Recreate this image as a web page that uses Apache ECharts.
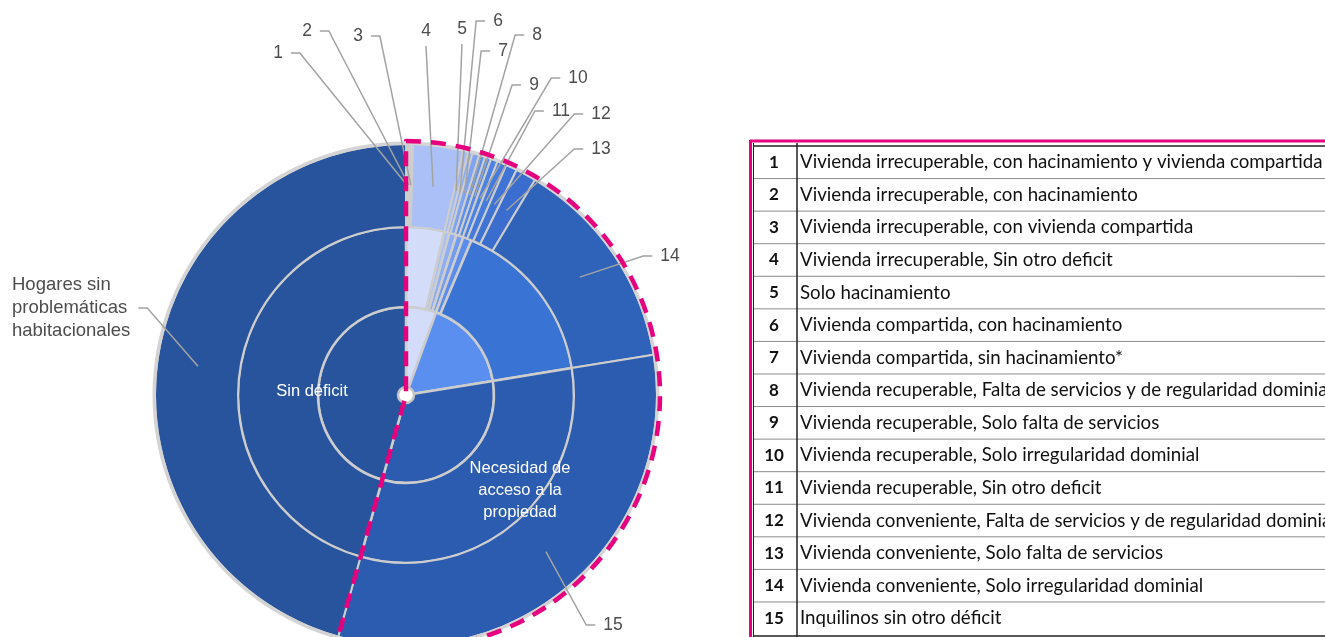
<!DOCTYPE html>
<html>
<head>
<meta charset="utf-8">
<title>Déficit habitacional</title>
<script src="https://cdn.jsdelivr.net/npm/echarts@6.0.0/dist/echarts.min.js"></script>
<style>
  html, body { margin: 0; padding: 0; background: #fff; }
  #chart { width: 1325px; height: 637px; }
</style>
</head>
<body>
<div id="chart"></div>
<script>
// anillo exterior: 15 categorías + hogares sin problemáticas
const outerNames = ['1', '2', '3', '4', '5', '6', '7', '8', '9', '10', '11', '12', '13', '14', '15',
  'Hogares sin\nproblemáticas\nhabitacionales'];
const outerValues = [0.14, 0.14, 0.17, 3.22, 0.33, 0.28, 0.44, 0.39, 0.39, 0.44, 0.61, 0.72, 1.33, 13.83, 31.92, 45.64];

// anillo medio
const middleNames = ['Vivienda irrecuperable', 'Hacinamiento', 'Vivienda compartida', 'Vivienda recuperable',
  'Falta de servicios', 'Irregularidad dominial', 'Necesidad de\nacceso a la\npropiedad', 'Sin déficit (medio)'];
const middleValues = [3.67, 0.5, 0.69, 0.69, 0.83, 16.06, 31.92, 45.64];

// anillo interior
const innerNames = ['Déficit cuantitativo', 'Déficit cualitativo', 'Inquilinos', 'Sin déficit'];
const innerValues = [5.56, 16.89, 31.92, 45.64];

// tabla de referencias
const tableNums = ['1', '2', '3', '4', '5', '6', '7', '8', '9', '10', '11', '12', '13', '14', '15'];
const tableTexts = [
  'Vivienda irrecuperable, con hacinamiento y vivienda compartida',
  'Vivienda irrecuperable, con hacinamiento',
  'Vivienda irrecuperable, con vivienda compartida',
  'Vivienda irrecuperable, Sin otro deficit',
  'Solo hacinamiento',
  'Vivienda compartida, con hacinamiento',
  'Vivienda compartida, sin hacinamiento*',
  'Vivienda recuperable, Falta de servicios y de regularidad dominial',
  'Vivienda recuperable, Solo falta de servicios',
  'Vivienda recuperable, Solo irregularidad dominial',
  'Vivienda recuperable, Sin otro deficit',
  'Vivienda conveniente, Falta de servicios y de regularidad dominial',
  'Vivienda conveniente, Solo falta de servicios',
  'Vivienda conveniente, Solo irregularidad dominial',
  'Inquilinos sin otro déficit'
];

// colores
const outerColors = ['#d6d6d6', '#d6d6d6', '#d6d6d6', '#aac0f6', '#a3bbf5', '#8eaef3', '#7ea3f1', '#5d8fec',
  '#5489e8', '#4c82e3', '#457bdd', '#3f74d5', '#3a6dcd', '#2f63b9', '#2c5caf', '#28549e'];
const middleColors = ['#d3ddf9', '#aac0f6', '#8eaef3', '#729cf0', '#5a8cec', '#3973d3', '#2c5caf', '#28549e'];
const innerColors = ['#d3ddf9', '#5b8fef', '#2c5caf', '#28549e'];

// posiciones de las etiquetas [x, y, lado del trazo, alineación]
const labelPos = [
  [278, 53, 'r', 'center'], [307, 31, 'r', 'center'], [358, 36, 'r', 'center'], [426, 31, 'b', 'center'],
  [462, 29, 'b', 'center'], [498, 21, 'l', 'center'], [503, 51, 'l', 'center'], [537, 35, 'l', 'center'],
  [534, 85, 'l', 'center'], [578, 78, 'l', 'center'], [561, 111, 'l', 'center'], [601, 114, 'l', 'center'],
  [601, 149, 'l', 'center'], [670, 256, 'l', 'center'], [613, 625, 'l', 'center'], [12, 308, 'r', 'left']
];

const CX = 406, CY = 395;
const R_IN = 88, R_MID = 168, R_OUT = 251;

var chart = echarts.init(document.getElementById('chart'));
var leaderLines = [];

function toData(names, values, colors) {
  return names.map(function (n, i) {
    return { name: n, value: values[i], itemStyle: { color: colors[i] } };
  });
}

// suma del deficit (todo menos "sin problemáticas")
var deficitSum = outerValues.slice(0, 15).reduce(function (a, b) { return a + b; }, 0);

var baseRing = {
  type: 'pie',
  center: [CX, CY],
  startAngle: 90,
  clockwise: true,
  silent: true,
  avoidLabelOverlap: false,
  emphasis: { disabled: true },
  labelLine: { show: false },
  itemStyle: { borderColor: '#cdcdcd', borderWidth: 2.5 }
};

var option = {
  animation: false,
  textStyle: { fontFamily: 'Liberation Sans' },
  series: [
    Object.assign({}, baseRing, {
      name: 'interior',
      radius: [0, R_IN],
      data: toData(innerNames, innerValues, innerColors),
      label: {
        show: true, position: 'inside', color: '#fff', fontSize: 16.5,
        formatter: function (p) { return p.dataIndex === 3 ? 'Sin déficit' : ''; }
      },
      labelLayout: function (p) {
        if (p.dataIndex === 3) return { x: 312, y: 391, align: 'center', verticalAlign: 'middle' };
        return {};
      }
    }),
    Object.assign({}, baseRing, {
      name: 'medio',
      radius: [R_IN, R_MID],
      data: toData(middleNames, middleValues, middleColors),
      label: {
        show: true, position: 'inside', color: '#fff', fontSize: 16.5, lineHeight: 22,
        formatter: function (p) { return p.dataIndex === 6 ? p.name : ''; }
      },
      labelLayout: function (p) {
        if (p.dataIndex === 6) return { x: 520, y: 490, align: 'center', verticalAlign: 'middle' };
        return {};
      }
    }),
    Object.assign({}, baseRing, {
      name: 'exterior',
      radius: [R_MID, R_OUT],
      itemStyle: { borderColor: '#cdcdcd', borderWidth: 2 },
      data: outerNames.map(function (n, i) {
        var d = { name: n, value: outerValues[i], itemStyle: { color: outerColors[i] } };
        if (i === 15) d.label = { fontSize: 18.5 };
        return d;
      }),
      label: {
        show: true, position: 'outside', color: '#4d4d4d', fontSize: 17.5, lineHeight: 23, formatter: '{b}'
      },
      // se usa labelLine solo para obtener el punto de anclaje del sector
      labelLine: { show: true, length: 10, length2: 10, lineStyle: { opacity: 0 } },
      labelLayout: function (p) {
        var lp = labelPos[p.dataIndex];
        var pts = p.labelLinePoints;
        var w = p.labelRect.width;
        // punto de anclaje dentro del anillo, sobre el ángulo medio del sector
        var d0 = Math.sqrt(Math.pow(pts[0][0] - CX, 2) + Math.pow(pts[0][1] - CY, 2));
        var k = 210 / d0;
        var ax = CX + (pts[0][0] - CX) * k;
        var ay = CY + (pts[0][1] - CY) * k;
        var left = lp[3] === 'left' ? lp[0] : lp[0] - w / 2;
        var right = lp[3] === 'left' ? lp[0] + w : lp[0] + w / 2;
        var line;
        if (lp[2] === 'r') {
          line = [[ax, ay], [right + 17, lp[1]], [right + 8, lp[1]]];
        } else if (lp[2] === 'l') {
          line = [[ax, ay], [left - 17, lp[1]], [left - 8, lp[1]]];
        } else {
          line = [[ax, ay], [lp[0], lp[1] + 15]];
        }
        leaderLines[p.dataIndex] = line;
        return { x: lp[0], y: lp[1], align: lp[3], verticalAlign: 'middle' };
      }
    }),
    // borde gris exterior
    Object.assign({}, baseRing, {
      name: 'borde',
      radius: [R_OUT - 1, R_OUT + 2.5],
      label: { show: false },
      itemStyle: { color: '#d4d4d4', borderWidth: 0 },
      data: [{ name: 'borde', value: 1 }]
    }),
    Object.assign({}, baseRing, {
      name: 'centro',
      radius: [0, 8],
      z: 150,
      label: { show: false },
      itemStyle: { color: '#fff', borderColor: '#c4c4c4', borderWidth: 2.5 },
      data: [{ name: 'centro', value: 1 }]
    }),
    // contorno punteado del déficit (por encima de las líneas guía)
    Object.assign({}, baseRing, {
      name: 'deficit',
      radius: [0, 254],
      z: 160,
      label: { show: false },
      data: [
        { name: 'Con déficit', value: deficitSum,
          itemStyle: { color: 'transparent', borderColor: '#e6007e', borderWidth: 4.5, borderType: [15, 10] } },
        { name: 'Sin problemáticas', value: outerValues[15],
          itemStyle: { color: 'transparent', borderWidth: 0 } }
      ]
    })
  ]
};

chart.setOption(option);

// líneas guía (desde la etiqueta hasta el sector) y tabla de referencias
var graphics = [];
leaderLines.forEach(function (pts) {
  if (!pts) return;
  graphics.push({
    type: 'polyline', z: 100, silent: true,
    shape: { points: pts },
    style: { stroke: '#a3a3a3', lineWidth: 1.5, fill: null }
  });
});

var rowTop = 146, rowH = 32.57;
tableNums.forEach(function (n, i) {
  var yc = rowTop + rowH * (i + 0.5);
  graphics.push({
    type: 'text', x: 774, y: yc,
    style: { text: n, font: 'bold 17px Lato', fill: '#111', textAlign: 'center', textVerticalAlign: 'middle' }
  });
  graphics.push({
    type: 'text', x: 800, y: yc,
    style: { text: tableTexts[i], font: '18.7px Lato', fill: '#111', textAlign: 'left', textVerticalAlign: 'middle' }
  });
  if (i > 0) {
    graphics.push({
      type: 'line', shape: { x1: 753, y1: rowTop + rowH * i, x2: 1325, y2: rowTop + rowH * i },
      style: { stroke: '#8c8c8c', lineWidth: 1 }
    });
  }
});
graphics.push(
  { type: 'line', shape: { x1: 753, y1: 146, x2: 1325, y2: 146 }, style: { stroke: '#222', lineWidth: 1.5 } },
  { type: 'line', shape: { x1: 753, y1: 636, x2: 1325, y2: 636 }, style: { stroke: '#222', lineWidth: 1.5 } },
  { type: 'line', shape: { x1: 753.5, y1: 143, x2: 753.5, y2: 637 }, style: { stroke: '#222', lineWidth: 1 } },
  { type: 'line', shape: { x1: 797, y1: 143, x2: 797, y2: 637 }, style: { stroke: '#222', lineWidth: 1.5 } },
  { type: 'line', shape: { x1: 750, y1: 141, x2: 1325, y2: 141 }, style: { stroke: '#e6007e', lineWidth: 3 } },
  { type: 'line', shape: { x1: 750.5, y1: 140, x2: 750.5, y2: 637 }, style: { stroke: '#e6007e', lineWidth: 3 } }
);

chart.setOption({ graphic: { elements: graphics } });
</script>
</body>
</html>
